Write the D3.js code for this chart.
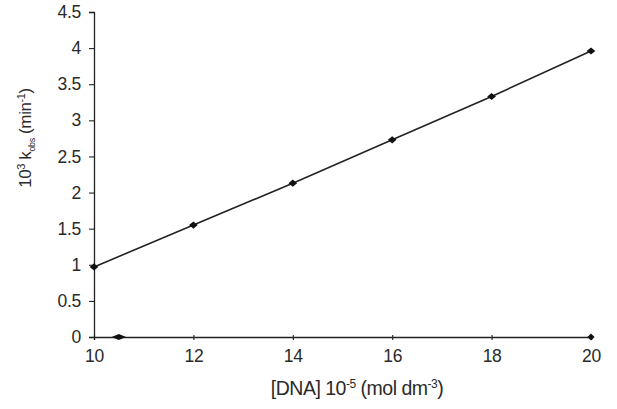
<!DOCTYPE html>
<html>
<head>
<meta charset="utf-8">
<script src="https://cdn.jsdelivr.net/npm/d3@7"></script>
<style>
  body { margin: 0; background: #fff; }
  svg text { font-family: "Liberation Sans", Arial, sans-serif; fill: #2a2a2a; }
</style>
</head>
<body>
<svg id="chart" width="617" height="409"></svg>
<script>
"use strict";
// data
const dnaConc = [10, 12, 14, 16, 18, 20];
const kObs = [0.97, 1.55, 2.13, 2.73, 3.33, 3.96];
const strayX = [10.5, 20];
const strayY = [0, 0];
const xTicks = [10, 12, 14, 16, 18, 20];
const yTicks = [0, 0.5, 1, 1.5, 2, 2.5, 3, 3.5, 4, 4.5];

const svg = d3.select("#chart");
const margin = {top: 12, left: 94, right: 26, bottom: 72};
const width = 617 - margin.left - margin.right,
    height = 409 - margin.top - margin.bottom;

const x = d3.scaleLinear().domain([10, 20]).range([0, width]);
const y = d3.scaleLinear().domain([0, 4.5]).range([height, 0]);

const g = svg.append("g")
    .attr("transform", "translate(" + margin.left + "," + margin.top + ")");

// axes
const xAxis = g.append("g")
    .attr("transform", "translate(0," + height + ")")
    .call(d3.axisBottom(x).tickValues(xTicks).tickSize(3).tickFormat(d3.format("d")));
const yAxis = g.append("g")
    .call(d3.axisLeft(y).tickValues(yTicks).tickSize(5).tickFormat(d => d));

for (let ax of [xAxis, yAxis]) {
    ax.select(".domain").attr("stroke", "#222").attr("stroke-width", 1.3);
    ax.selectAll(".tick line").attr("stroke", "#222").attr("stroke-width", 1.1);
    ax.selectAll("text")
        .style("font-size", "17.5px")
        .style("letter-spacing", "-0.3px")
        .style("font-family", "Liberation Sans, Arial, sans-serif")
        .attr("fill", "#2a2a2a");
}
xAxis.selectAll(".tick line").attr("y1", -2);
xAxis.selectAll(".tick text").attr("y", 8).attr("dy", "0.95em");
yAxis.selectAll(".tick text").attr("x", -13);

// fitted line through points
const line = d3.line().x((d, i) => x(dnaConc[i])).y(d => y(d));
g.append("path")
    .datum(kObs)
    .attr("fill", "none")
    .attr("stroke", "#222")
    .attr("stroke-width", 1.6)
    .attr("d", line);

const marker = d3.symbol().type(d3.symbolSquare).size(26);
g.selectAll(".pt")
    .data(kObs)
    .enter().append("path")
    .attr("class", "pt")
    .attr("transform", (d, i) => "translate(" + x(dnaConc[i]) + "," + y(d) + ") scale(1.2,1) rotate(45)")
    .attr("d", marker)
    .attr("fill", "#111");

g.selectAll(".stray")
    .data(strayY)
    .enter().append("path")
    .attr("class", "stray")
    .attr("transform", (d, i) => "translate(" + x(strayX[i]) + "," + y(d) + ")" +
        (i === 0 ? " scale(2,0.8) rotate(45)" : " rotate(45)"))
    .attr("d", marker)
    .attr("fill", "#111");

// axis titles
const xt = svg.append("text")
    .attr("x", 357)
    .attr("y", 395)
    .attr("text-anchor", "middle")
    .style("font-size", "19.5px")
    .style("letter-spacing", "-0.5px");
xt.append("tspan").text("[DNA] 10");
xt.append("tspan").attr("dy", -7).style("font-size", "12px").text("-5");
xt.append("tspan").attr("dy", 7).text(" (mol dm");
xt.append("tspan").attr("dy", -7).style("font-size", "12px").text("-3");
xt.append("tspan").attr("dy", 7).text(")");

const yt = svg.append("text")
    .attr("transform", "translate(31,138) rotate(-90)")
    .attr("text-anchor", "middle")
    .style("font-size", "17px")
    .style("letter-spacing", "-0.4px");
yt.append("tspan").text("10");
yt.append("tspan").attr("dy", -6).style("font-size", "11px").text("3");
yt.append("tspan").attr("dy", 6).text(" k");
yt.append("tspan").attr("dy", 4).style("font-size", "9px").text("obs");
yt.append("tspan").attr("dy", -4).text(" (min");
yt.append("tspan").attr("dy", -6).style("font-size", "11px").text("-1");
yt.append("tspan").attr("dy", 6).text(")");
</script>
</body>
</html>
